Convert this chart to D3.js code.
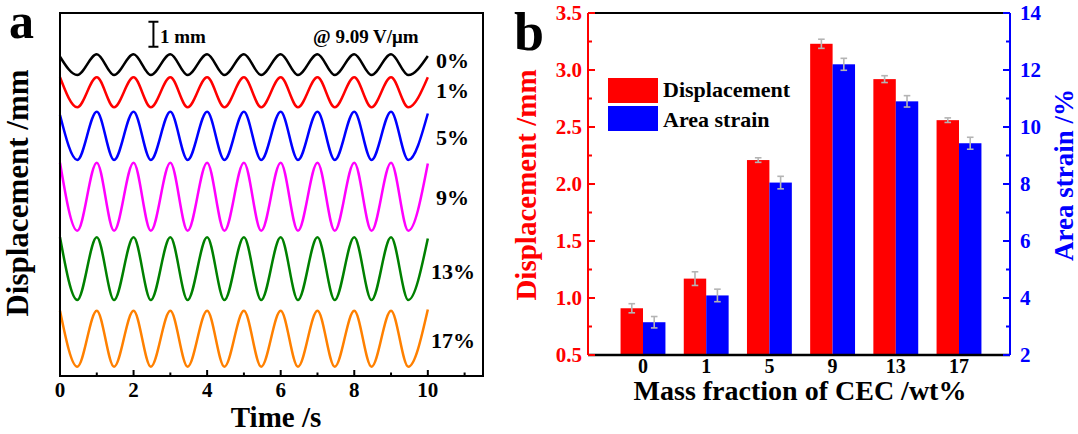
<!DOCTYPE html>
<html><head><meta charset="utf-8">
<script src="https://cdn.jsdelivr.net/npm/d3@7"></script>
<style>
html,body{margin:0;padding:0;background:#fff;}
svg{display:block;}
text{font-family:"Liberation Serif","Times New Roman",serif;font-weight:bold;}
</style></head>
<body>
<svg id="chart" width="1078" height="434"></svg>
<script>
// ---------- Panel a data ----------
const timeS = [0,0.47,1,1.47,2,2.47,3,3.47,4,4.47,5,5.47,6,6.47,7,7.47,8,8.47,9,9.47,10];
const seriesLabels = ["0%","1%","5%","9%","13%","17%"];
const seriesColors = ["#000000","#ff0000","#0000ff","#ff00ff","#008000","#ff8000"];
const disp0  = [12.77,12.04,12.87,12.04,12.87,12.04,12.87,12.04,12.87,12.04,12.87,12.04,12.87,12.04,12.87,12.04,12.87,12.04,12.87,12.04,12.80];
const disp1  = [11.95,10.75,11.95,10.75,11.95,10.75,11.95,10.75,11.95,10.75,11.95,10.75,11.95,10.75,11.95,10.75,11.95,10.75,11.95,10.75,11.95];
const disp5  = [10.44,8.64,10.57,8.64,10.57,8.64,10.57,8.64,10.57,8.64,10.57,8.64,10.57,8.64,10.57,8.64,10.57,8.64,10.57,8.64,10.50];
const disp9  = [8.53,5.81,8.53,5.81,8.53,5.81,8.53,5.81,8.53,5.81,8.53,5.81,8.53,5.81,8.53,5.81,8.53,5.81,8.53,5.81,8.50];
const disp13 = [5.55,3.04,5.55,3.04,5.55,3.04,5.55,3.04,5.55,3.04,5.55,3.04,5.55,3.04,5.55,3.04,5.55,3.04,5.55,3.04,5.50];
const disp17 = [2.61,0.37,2.61,0.37,2.61,0.37,2.61,0.37,2.61,0.37,2.61,0.37,2.61,0.37,2.61,0.37,2.61,0.37,2.61,0.37,2.66];
const waves = [disp0,disp1,disp5,disp9,disp13,disp17];
const timeTickLabels = [0,2,4,6,8,10];
const timeMinorTicks = [1,3,5,7,9,11];

// ---------- Panel b data ----------
const categories = ["0","1","5","9","13","17"];
const displacement = [0.91,1.17,2.21,3.23,2.92,2.56];
const displacementErr = [0.04,0.06,0.02,0.04,0.03,0.02];
const areaStrain = [3.15,4.09,8.05,12.2,10.9,9.43];
const areaStrainErr = [0.20,0.22,0.22,0.21,0.20,0.21];
const leftTicks = [0.5,1.0,1.5,2.0,2.5,3.0,3.5];
const leftMinor = [0.75,1.25,1.75,2.25,2.75,3.25];
const rightTicks = [2,4,6,8,10,12,14];
const rightMinor = [3,5,7,9,11,13];

const svg = d3.select("#chart");

// ================= Panel a =================
const ax = {l:60, r:483, t:13, b:376};
const xA = d3.scaleLinear().domain([0,11.5]).range([ax.l, ax.r]);
const yA = d3.scaleLinear().domain([0,14.52]).range([ax.b, ax.t]);
const gA = svg.append("g");

const line = d3.line().x((d,i)=>xA(timeS[i])).y(d=>yA(d)).curve(d3.curveMonotoneX);
waves.forEach((w,k)=>{
  gA.append("path").attr("d", line(w)).attr("fill","none")
    .attr("stroke", seriesColors[k]).attr("stroke-width",2.5);
});
// frame
gA.append("rect").attr("x",ax.l).attr("y",ax.t).attr("width",ax.r-ax.l).attr("height",ax.b-ax.t)
  .attr("fill","none").attr("stroke","#000").attr("stroke-width",2);
// ticks
timeTickLabels.forEach(v=>{
  gA.append("line").attr("x1",xA(v)).attr("x2",xA(v)).attr("y1",ax.b).attr("y2",ax.b-6).attr("stroke","#000").attr("stroke-width",2);
  gA.append("text").attr("x",xA(v)).attr("y",397).attr("text-anchor","middle").attr("font-size",21).text(v);
});
timeMinorTicks.forEach(v=>{
  gA.append("line").attr("x1",xA(v)).attr("x2",xA(v)).attr("y1",ax.b).attr("y2",ax.b-3.5).attr("stroke","#000").attr("stroke-width",2);
});
gA.append("text").attr("x",276).attr("y",427).attr("text-anchor","middle").attr("font-size",29).text("Time /s");
gA.append("text").attr("transform","translate(28,193) rotate(-90)").attr("text-anchor","middle").attr("font-size",31).text("Displacement /mm");
gA.append("text").attr("x",9).attr("y",38).attr("font-size",50).text("a");

// series labels
const labelPos = [[436,68],[436,98],[436,145],[436,205],[431,279],[431,348]];
seriesLabels.forEach((s,k)=>{
  gA.append("text").attr("x",labelPos[k][0]).attr("y",labelPos[k][1]).attr("font-size",22).text(s);
});
// scale bar: 1 mm
const sbT = 2.54, sbLo = 13.17, sbHi = 14.17;
gA.append("line").attr("x1",xA(sbT)).attr("x2",xA(sbT)).attr("y1",yA(sbLo)).attr("y2",yA(sbHi)).attr("stroke","#000").attr("stroke-width",2);
[sbLo,sbHi].forEach(v=>{
  gA.append("line").attr("x1",xA(sbT)-5).attr("x2",xA(sbT)+5).attr("y1",yA(v)).attr("y2",yA(v)).attr("stroke","#000").attr("stroke-width",2);
});
gA.append("text").attr("x",160).attr("y",43).attr("font-size",19).text("1 mm");
gA.append("text").attr("x",313).attr("y",43).attr("font-size",19).text("@ 9.09 V/\u03bcm");

// ================= Panel b =================
const bx = {l:588, r:1010, t:13, b:355};
const xB = d3.scaleBand().domain(categories).range([611.4, 990.6]).paddingInner(0.29).paddingOuter(0.145);
const yL = d3.scaleLinear().domain([0.5,3.5]).range([bx.b, bx.t]);
const yR = d3.scaleLinear().domain([2,14]).range([bx.b, bx.t]);
const gB = svg.append("g");
const bw = xB.bandwidth()/2;

categories.forEach((c,i)=>{
  const x0 = xB(c);
  gB.append("rect").attr("x",x0).attr("width",bw).attr("y",yL(displacement[i])).attr("height",yL(0.5)-yL(displacement[i])).attr("fill","#ff0000");
  gB.append("rect").attr("x",x0+bw).attr("width",bw).attr("y",yR(areaStrain[i])).attr("height",yR(2)-yR(areaStrain[i])).attr("fill","#0000ff");
});
// error bars
function errBar(cx, yTop, yBot){
  gB.append("line").attr("x1",cx).attr("x2",cx).attr("y1",yTop).attr("y2",yBot).attr("stroke","#b4b4b4").attr("stroke-width",1.6);
  [yTop,yBot].forEach(y=>gB.append("line").attr("x1",cx-3.3).attr("x2",cx+3.3).attr("y1",y).attr("y2",y).attr("stroke","#b4b4b4").attr("stroke-width",1.6));
}
categories.forEach((c,i)=>{
  const x0 = xB(c);
  errBar(x0+bw/2, yL(displacement[i]+displacementErr[i]), yL(displacement[i]-displacementErr[i]));
  errBar(x0+bw*1.5, yR(areaStrain[i]+areaStrainErr[i]), yR(areaStrain[i]-areaStrainErr[i]));
});
// top & bottom lines
gB.append("line").attr("x1",bx.l).attr("x2",bx.r).attr("y1",bx.t).attr("y2",bx.t).attr("stroke","#000").attr("stroke-width",2);
gB.append("line").attr("x1",bx.l).attr("x2",bx.r).attr("y1",bx.b).attr("y2",bx.b).attr("stroke","#000").attr("stroke-width",2.5);
// left axis
gB.append("line").attr("x1",bx.l).attr("x2",bx.l).attr("y1",bx.t).attr("y2",bx.b).attr("stroke","#ff0000").attr("stroke-width",2);
leftTicks.forEach(v=>{
  gB.append("line").attr("x1",bx.l).attr("x2",bx.l+7).attr("y1",yL(v)).attr("y2",yL(v)).attr("stroke","#ff0000").attr("stroke-width",2);
  gB.append("text").attr("x",582).attr("y",yL(v)+7).attr("text-anchor","end").attr("font-size",21).attr("fill","#ff0000").text(d3.format(".1f")(v));
});
leftMinor.forEach(v=>{
  gB.append("line").attr("x1",bx.l).attr("x2",bx.l+4).attr("y1",yL(v)).attr("y2",yL(v)).attr("stroke","#ff0000").attr("stroke-width",2);
});
// right axis
gB.append("line").attr("x1",bx.r).attr("x2",bx.r).attr("y1",bx.t).attr("y2",bx.b).attr("stroke","#0000ff").attr("stroke-width",2);
rightTicks.forEach(v=>{
  gB.append("line").attr("x1",bx.r).attr("x2",bx.r-7).attr("y1",yR(v)).attr("y2",yR(v)).attr("stroke","#0000ff").attr("stroke-width",2);
  gB.append("text").attr("x",1020).attr("y",yR(v)+7).attr("font-size",21).attr("fill","#0000ff").text(v);
});
rightMinor.forEach(v=>{
  gB.append("line").attr("x1",bx.r).attr("x2",bx.r-4).attr("y1",yR(v)).attr("y2",yR(v)).attr("stroke","#0000ff").attr("stroke-width",2);
});
// category labels
categories.forEach(c=>{
  gB.append("text").attr("x",xB(c)+xB.bandwidth()/2).attr("y",373).attr("text-anchor","middle").attr("font-size",20).text(c);
});
gB.append("text").attr("x",800).attr("y",400).attr("text-anchor","middle").attr("font-size",28).text("Mass fraction of CEC /wt%");
gB.append("text").attr("transform","translate(536,185) rotate(-90)").attr("text-anchor","middle").attr("font-size",29).attr("fill","#ff0000").text("Displacement /mm");
gB.append("text").attr("transform","translate(1073,175) rotate(-90)").attr("text-anchor","middle").attr("font-size",27).attr("fill","#0000ff").text("Area strain /%");
gB.append("text").attr("x",514).attr("y",50).attr("font-size",54).text("b");
// legend
gB.append("rect").attr("x",608).attr("y",78).attr("width",50).attr("height",25).attr("fill","#ff0000");
gB.append("rect").attr("x",608).attr("y",106).attr("width",50).attr("height",25).attr("fill","#0000ff");
gB.append("text").attr("x",663).attr("y",97).attr("font-size",22).text("Displacement");
gB.append("text").attr("x",663).attr("y",127).attr("font-size",22).text("Area strain");
</script>
</body></html>
